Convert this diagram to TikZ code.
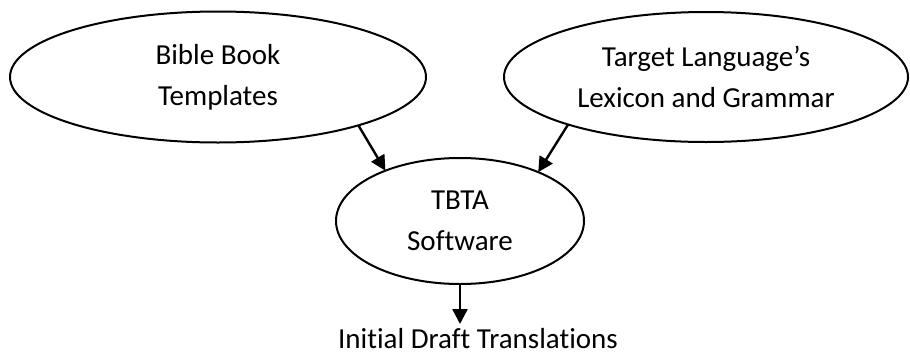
\documentclass[tikz,border=0pt]{standalone}
\usepackage{fontspec}
\setmainfont{Carlito}[Ligatures=NoCommon]
\usetikzlibrary{shapes.geometric,arrows.meta}
\tikzset{
  oval/.style={ellipse, draw=black, line width=2pt, inner sep=0pt, outer sep=0pt, align=center,
    font=\fontsize{29}{41}\selectfont},
  arr/.style={line width=2.4pt, -{Triangle[length=15pt,width=15pt]}},
  lbl/.style={font=\fontsize{29}{41}\selectfont, inner sep=0pt}
}
\begin{document}
\begin{tikzpicture}[x=1pt,y=-1pt]
\useasboundingbox (0,0) rectangle (910,354);
\node[oval, minimum width=416pt, minimum height=131pt] (L) at (218,77) {Bible Book\\Templates};
\node[oval, minimum width=404pt, minimum height=130pt] (R) at (706,77) {Target Language’s\\Lexicon and Grammar};
\node[oval, minimum width=248pt, minimum height=126pt] (T) at (460,221) {TBTA\\Software};
\node[lbl, anchor=base] (D) at (478,348) {Initial Draft Translations};
\coordinate (Dtop) at (T.south |- 0,324);
\draw[arr] (L.-19) -- (T.146);
\draw[arr] (R.199.6) -- (T.32.8);
\draw[arr] (T.south) -- (Dtop);
\end{tikzpicture}
\end{document}
